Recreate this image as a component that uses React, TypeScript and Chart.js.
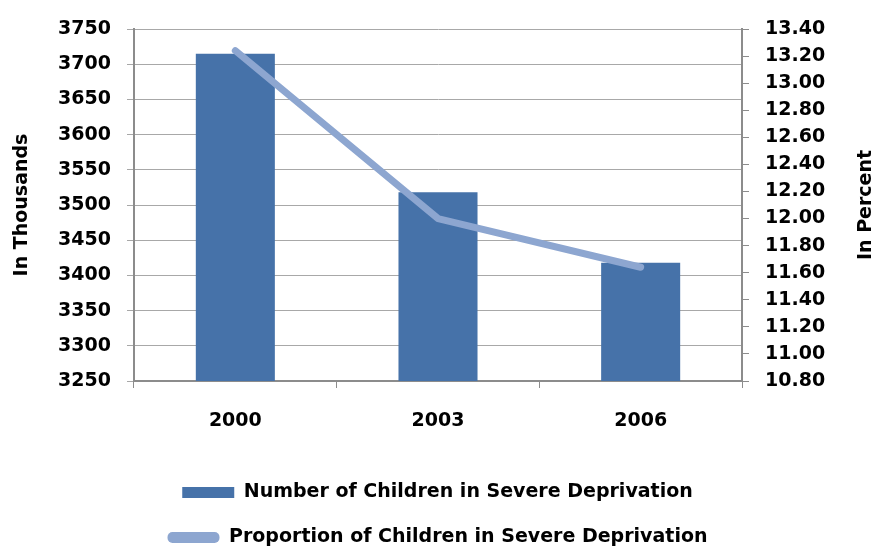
import React, { useEffect, useRef } from "react";
import { Chart, registerables } from "chart.js";

Chart.register(...registerables);

const categories = ["2000", "2003", "2006"];
const childrenThousands = [3715, 3518, 3418];
const proportionPercent = [13.24, 12.0, 11.64];
const barLabel = "Number of Children in Severe Deprivation";
const lineLabel = "Proportion of Children in Severe Deprivation";
const leftTitle = "In Thousands";
const rightTitle = "In Percent";

const BAR_COLOR = "#4672A9";
const LINE_COLOR = "#8DA6D0";
const GRID = "#A8A8A8";
const AXIS = "#8C8C8C";
const FONT = '"DejaVu Sans", sans-serif';

const axisTitles = {
  id: "axisTitles",
  afterDraw(chart: any) {
    const { ctx, chartArea, scales } = chart;
    const cy = (chartArea.top + chartArea.bottom) / 2;
    ctx.save();
    ctx.font = `bold 19px ${FONT}`;
    ctx.fillStyle = "#000";
    ctx.textAlign = "center";
    ctx.textBaseline = "middle";
    const items: [number, string][] = [
      [scales.y.left + 22, leftTitle],
      [scales.y1.right - 9, rightTitle],
    ];
    for (const [x, t] of items) {
      ctx.save();
      ctx.translate(x, cy);
      ctx.rotate(-Math.PI / 2);
      ctx.fillText(t, 0, 0);
      ctx.restore();
    }
    ctx.restore();
  },
};

export default function App() {
  const ref = useRef<HTMLCanvasElement>(null);
  useEffect(() => {
    document.body.style.margin = "0";
    const chart = new Chart(ref.current!, {
      type: "bar",
      data: {
        labels: categories,
        datasets: [
          {
            type: "line",
            label: lineLabel,
            data: proportionPercent,
            yAxisID: "y1",
            borderColor: LINE_COLOR,
            backgroundColor: LINE_COLOR,
            borderWidth: 7,
            borderCapStyle: "round",
            borderJoinStyle: "round",
            pointRadius: 0,
            tension: 0,
            order: 0,
          } as any,
          {
            type: "bar",
            label: barLabel,
            data: childrenThousands,
            yAxisID: "y",
            backgroundColor: BAR_COLOR,
            borderWidth: 0,
            categoryPercentage: 1,
            barPercentage: 0.39,
            order: 1,
          },
        ],
      },
      options: {
        animation: false,
        responsive: true,
        maintainAspectRatio: false,
        layout: { padding: { top: 29, bottom: -7, left: 0, right: 0 } },
        plugins: {
          tooltip: { enabled: false },
          legend: {
            position: "bottom",
            reverse: true,
            labels: {
              font: { family: FONT, size: 19, weight: "bold" },
              color: "#000",
              boxWidth: 52,
              boxHeight: 11,
              padding: 26,
              useBorderRadius: true,
              generateLabels: (chart: any) =>
                chart.data.datasets.map((ds: any, i: number) => ({
                  text: ds.label,
                  datasetIndex: i,
                  fillStyle: ds.backgroundColor,
                  strokeStyle: ds.backgroundColor,
                  lineWidth: 0,
                  borderRadius: ds.type === "line" ? 5 : 0,
                  fontColor: "#000",
                  hidden: false,
                })),
            },
          },
        },
        scales: {
          x: {
            offset: true,
            grid: {
              offset: true,
              drawOnChartArea: false,
              tickLength: 7,
              color: AXIS,
            },
            border: { color: AXIS, width: 2 },
            ticks: {
              font: { family: FONT, size: 19, weight: "bold" },
              color: "#000",
              padding: 22,
            },
            afterFit: (s: any) => {
              s.height = 76;
            },
          },
          y: {
            position: "left",
            min: 3250,
            max: 3750,
            ticks: {
              stepSize: 50,
              font: { family: FONT, size: 19, weight: "bold" },
              color: "#000",
              padding: 16,
              callback: (v: any) => String(v),
            },
            grid: { color: GRID, tickLength: 7 },
            border: { color: AXIS, width: 2 },
            afterFit: (s: any) => {
              s.width = 134;
            },
          },
          y1: {
            position: "right",
            min: 10.8,
            max: 13.4,
            ticks: {
              stepSize: 0.2,
              font: { family: FONT, size: 19, weight: "bold" },
              color: "#000",
              padding: 16,
              callback: (v: any) => Number(v).toFixed(2),
            },
            grid: { drawOnChartArea: false, tickLength: 7, color: AXIS },
            border: { color: AXIS, width: 2 },
            afterFit: (s: any) => {
              s.width = 133;
            },
          },
        },
      },
      plugins: [axisTitles],
    });
    return () => chart.destroy();
  }, []);
  return (
    <div style={{ position: "relative", width: 875, height: 550 }}>
      <canvas ref={ref} />
    </div>
  );
}
